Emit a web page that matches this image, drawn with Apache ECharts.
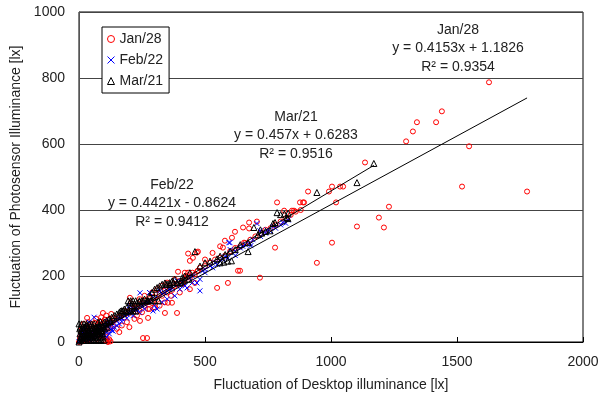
<!DOCTYPE html>
<html><head><meta charset="utf-8">
<script src="https://cdn.jsdelivr.net/npm/echarts@6/dist/echarts.min.js"></script>
<style>html,body{margin:0;padding:0;background:#fff}#c{width:608px;height:399px}</style>
</head><body><div id="c"></div>
<script>
const seriesNames = ['Jan/28', 'Feb/22', 'Mar/21'];
const xTicks = [0, 500, 1000, 1500, 2000];
const yTicks = [0, 200, 400, 600, 800, 1000];
const xTitle = 'Fluctuation of Desktop illuminance [lx]';
const yTitle = 'Fluctuation of Photosensor Illuminance [lx]';

const janData = [
 [0,0],[5,3],[10,8],[15,2],[20,12],[25,5],[30,15],[35,10],[40,20],[45,8],[50,25],[55,15],[60,30],[65,22],[70,10],[75,35],[80,28],[85,40],[90,18],[95,45],[100,38],[105,50],[110,30],[115,0],[120,55],[125,42],[130,60],[135,48],[140,65],
 [8,25],[12,40],[18,55],[22,30],[28,45],[38,60],[48,35],[58,50],[68,70],[78,55],[88,75],[98,62],[108,80],[118,68],[128,85],[138,72],[150,70],[160,78],[170,85],[180,75],[190,92],[200,88],[210,95],[220,100],
 [105,5],[115,3],[125,2],[110,10],[120,8],[30,30],[42,48],[62,58],[72,45],[82,62],[92,52],[102,68],[4,12],[14,18],[24,22],[34,28],[44,14],[54,42],[64,36],[74,24],[84,20],[94,30],
 [150,40],[160,30],[170,50],[180,95],[190,60],[200,45],[210,115],[220,70],[230,80],[240,130],[250,90],[260,140],[280,100],[290,150],[300,105],[310,160],[320,110],[330,170],[340,120],[350,180],[380,190],[400,150],[420,210],[440,160],[500,250],[530,270],[560,290],
 [230,105],[240,95],[250,115],[260,110],[270,120],[280,130],[290,118],[300,135],[310,128],[320,145],[330,140],[340,155],[350,150],[360,165],[370,158],[380,170],[390,175],[400,185],[410,178],[420,190],[430,200],[440,195],[450,210],[460,205],[470,215],[480,225],[500,230],[520,240],[540,250],[560,255],[580,262],[600,275],[620,285],[640,290],[660,300],[680,310],[700,320],[720,330],[740,340],[760,345],[780,355],[800,365],[820,375],[840,385],[860,395],[880,400],
 [1627,787],[1440,699],[1417,666],[1341,666],[1325,638],[1298,608],[1548,593],[1135,544],[1520,471],[1778,456],[1230,410],[1190,377],[1210,347],[1103,350],[1004,301],[944,240],[909,456],[1004,471],[1036,471],[1048,471],[992,456],[1020,423],[889,423],[786,423],[877,423],[893,423],[814,398],[845,398],[853,398],[706,365],[675,344],[651,347],[619,334],[579,307],[607,316],[778,286],[571,286],[468,271],[452,255],[675,362],[655,301],[472,274],[433,268],[440,246],[393,213],[433,210],[631,216],[639,216],[718,195],[591,179],[548,164],[365,140],[369,119],[202,134],[274,100],[274,73],[341,88],[389,88],[95,88],[32,73],[270,12],[222,109],[242,64],[262,125],[353,119],[413,176],[460,179],[472,216],[254,12]
];
const febData = [
 [0,0],[5,5],[10,2],[15,10],[20,6],[25,12],[30,8],[35,15],[40,18],[45,10],[50,22],[55,20],[60,25],[65,28],[70,30],[75,26],[80,35],[85,32],[90,40],[95,38],[100,45],[105,42],[110,48],[115,50],[120,52],[125,55],[130,58],[135,33],
 [8,15],[18,20],[28,25],[38,8],[48,30],[58,12],[68,18],[78,45],[88,22],[98,55],[108,30],[118,62],[128,40],
 [20,40],[40,60],[60,75],[15,30],[100,20],[110,15],[120,25],[130,35],[140,45],[150,50],[160,55],[170,62],[190,72],[200,110],[215,80],[240,90],[260,100],[280,150],[300,110],[330,120],[350,130],[380,140],[400,160],[420,170],[450,180],[480,190],[500,210],[530,225],[550,235],[570,250],[600,280],[620,262],[650,290],[690,310],[720,320],[740,330],[770,350],[800,355],[820,360],
 [150,65],[160,72],[170,70],[180,80],[190,85],[200,88],[210,92],[220,98],[230,100],[242,149],[250,108],[260,115],[270,120],[280,125],[294,94],[300,132],[310,100],[321,155],[330,145],[340,150],[350,155],[360,160],[370,162],[389,185],[400,175],[410,180],[429,164],[440,195],[450,200],[468,179],[480,155],[490,215],[500,220],[520,230],[540,240],[560,245],[580,258],[595,301],[591,255],[599,301],[620,275],[640,285],[660,295],[679,298],[682,292],[706,359],[718,337],[746,340],[760,335],[780,345],[809,362],[830,370]
];
const marData = [
 [0,0],[5,8],[10,15],[15,5],[20,20],[25,10],[30,25],[35,18],[40,30],[45,22],[50,35],[55,28],[60,40],[65,32],[70,45],[75,38],[80,50],[85,42],[90,55],[95,48],[100,60],[105,52],[110,65],[115,58],[120,70],[125,62],[130,75],
 [12,30],[22,45],[32,50],[42,55],[52,15],[62,20],[72,25],[82,30],[92,35],[102,40],[112,45],[0,55],[3,40],
 [2,5],[18,5],[28,5],[38,5],[48,5],[58,5],[68,5],[78,5],[88,5],[98,5],
 [6,15],[16,15],[26,15],[36,15],[46,15],[56,15],[66,15],[76,15],[86,15],[96,15],
 [4,25],[14,25],[24,25],[34,25],[44,25],[54,25],[64,25],[74,25],[84,25],[94,25],
 [8,35],[18,35],[28,35],[38,35],[48,35],[58,35],[68,35],[78,35],[88,35],
 [5,45],[15,45],[25,45],[35,45],[45,45],[55,45],[65,45],[80,45],[95,45],
 [10,55],[20,55],[30,55],[50,55],[60,55],[75,60],[85,62],
 [165,94],[175,94],[185,94],[195,94],[205,94],[215,94],[225,94],
 [195,125],[205,125],[215,125],[225,125],[240,125],[255,125],[270,125],[285,125],[300,125],[315,125],
 [330,175],[345,175],[360,175],[375,180],[390,180],[405,185],[420,188],[435,190],
 [560,240],[575,242],[590,245],[605,246],
 [710,325],[725,330],[740,335],[800,386],[815,388],[830,390],
 [140,80],[150,85],[160,90],[170,95],[180,100],[190,105],[202,119],[210,110],[220,115],[230,118],[240,122],[250,125],[260,130],[274,125],[280,140],[290,150],[300,160],[310,165],[320,170],[341,179],[350,175],[360,180],[370,185],[380,190],[401,179],[410,195],[420,200],[440,210],[460,274],[480,230],[500,240],[520,245],[548,252],[560,260],[580,265],[600,275],[620,280],[640,295],[671,274],[671,301],[694,347],[720,340],[758,337],[770,359],[778,362],[786,392],[825,377],[829,374],[944,453],[1103,483],[1170,541]
];

// trendline coefficients and x extents
const slopes = [0.4153, 0.4421, 0.457];
const intercepts = [1.1826, -0.8624, 0.6283];
const r2 = [0.9354, 0.9412, 0.9516];
const trendXEnd = [1778, 830, 1170];

const font = 'Liberation Sans, Arial, sans-serif';
const colors = ['#ff0000', '#0000ff', '#000000'];
const symbols = ['circle', 'path://M0,0L10,10M10,0L0,10', 'triangle'];
const symSizes = [5, 5, 6];
const allData = [janData, febData, marData];

function eqText(i) {
  const b = intercepts[i];
  return 'y = ' + slopes[i] + 'x ' + (b < 0 ? '- ' : '+ ') + Math.abs(b);
}
// annotation block centers (layout)
const annPos = [[458, 30], [172, 185], [296, 117]];

const series = [];
seriesNames.forEach((n, i) => {
  series.push({
    name: n, type: 'scatter', data: allData[i],
    symbol: symbols[i], symbolSize: symSizes[i],
    itemStyle: {color: 'rgba(0,0,0,0)', borderColor: colors[i], borderWidth: 1, opacity: 1},
    z: 2 + i, animation: false
  });
});
seriesNames.forEach((n, i) => {
  series.push({
    type: 'line', data: [[0, intercepts[i]], [trendXEnd[i], slopes[i] * trendXEnd[i] + intercepts[i]]],
    symbol: 'none', lineStyle: {color: '#000', width: 1}, z: 10, animation: false, silent: true
  });
});

const graphics = [];
seriesNames.forEach((n, i) => {
  const lines = [n, eqText(i), 'R² = ' + r2[i]];
  lines.forEach((t, k) => {
    graphics.push({type: 'text', x: annPos[i][0], y: annPos[i][1] + k * 18.5, z: 100,
      style: {text: t, font: '14px ' + font, fill: '#222', textAlign: 'center', textVerticalAlign: 'middle'}});
  });
});

const chart = echarts.init(document.getElementById('c'), null, {renderer: 'canvas'});
chart.setOption({
  animation: false,
  backgroundColor: '#fff',
  grid: {left: 79, right: 25, top: 12, bottom: 57, show: true, borderColor: '#000', borderWidth: 1},
  xAxis: {
    type: 'value', min: xTicks[0], max: xTicks[xTicks.length - 1], interval: xTicks[1] - xTicks[0],
    name: xTitle, nameLocation: 'middle', nameGap: 36,
    nameTextStyle: {fontFamily: font, fontSize: 14, color: '#222'},
    axisLine: {lineStyle: {color: '#000'}},
    axisTick: {inside: true, length: 5, lineStyle: {color: '#000'}},
    axisLabel: {fontFamily: font, fontSize: 14, color: '#222', margin: 13, formatter: v => String(v)},
    splitLine: {show: false}
  },
  yAxis: {
    type: 'value', min: yTicks[0], max: yTicks[yTicks.length - 1], interval: yTicks[1] - yTicks[0],
    name: yTitle, nameLocation: 'middle', nameGap: 52,
    nameTextStyle: {fontFamily: font, fontSize: 14, color: '#222'},
    axisLine: {show: true, lineStyle: {color: '#555'}},
    axisTick: {show: false},
    axisLabel: {fontFamily: font, fontSize: 14, color: '#222', margin: 14, formatter: v => String(v)},
    splitLine: {lineStyle: {color: '#444', width: 1}}
  },
  legend: {
    left: 102, top: 27, orient: 'vertical', padding: [5, 6, 5, 5], itemGap: 7,
    itemWidth: 7, itemHeight: 7, backgroundColor: '#fff', borderColor: '#000', borderWidth: 1,
    textStyle: {fontFamily: font, fontSize: 14, color: '#222'},
    data: seriesNames.map((n, i) => ({name: n, icon: symbols[i],
      itemStyle: {color: 'rgba(0,0,0,0)', borderColor: colors[i], borderWidth: 1}}))
  },
  series: series,
  graphic: graphics
});
</script></body></html>
